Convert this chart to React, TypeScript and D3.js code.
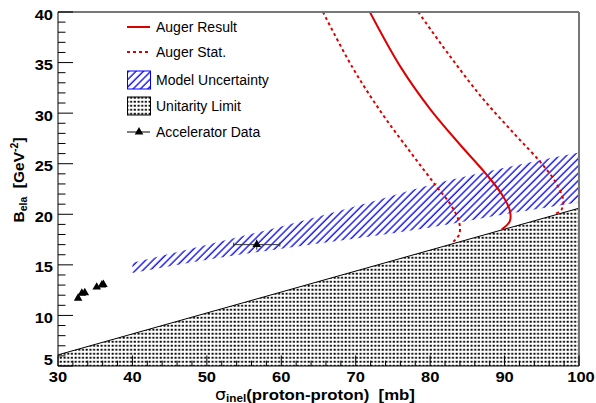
import React from "react";
import * as d3 from "d3";

// ---- data ----
const xTicksMajor = [30, 40, 50, 60, 70, 80, 90, 100];
const yTicksMajor = [5, 10, 15, 20, 25, 30, 35, 40];

const augerResultX = [71.9, 76.0, 80.0, 84.0, 87.5, 89.6, 90.7, 90.7, 89.6];
const augerResultY = [40, 34.6, 30.4, 26.9, 24.0, 22.0, 20.4, 19.3, 18.5];

const augerStatLowX = [65.6, 69.5, 73.5, 77.5, 80.8, 82.8, 83.9, 83.9, 83.0];
const augerStatLowY = [40, 34.6, 30.0, 26.0, 22.8, 20.9, 19.2, 18.0, 17.2];

const augerStatHighX = [78.4, 82.5, 87.0, 91.5, 95.0, 97.0, 97.9, 97.6, 96.6];
const augerStatHighY = [40, 35.8, 31.5, 27.8, 25.0, 23.0, 21.3, 20.4, 20.0];

const bandX = [40, 50, 60, 70, 80, 90, 100];
const bandUpper = [15.2, 17.0, 18.8, 20.8, 22.9, 24.6, 26.1];
const bandLower = [14.2, 15.5, 16.6, 17.6, 18.7, 20.0, 21.2];

const unitarityX = [30, 100];
const unitarityY = [6.1, 20.6];

const accX = [32.7, 33.2, 33.6, 35.2, 35.9, 36.1, 56.7];
const accY = [11.7, 12.2, 12.25, 12.8, 13.0, 13.05, 17.0];
const accXErr = [0, 0, 0, 0, 0, 0, 3.1];
const accYErr = [0, 0, 0, 0, 0, 0, 0.5];

const legendLabels = ["Auger Result", "Auger Stat.", "Model Uncertainty", "Unitarity Limit", "Accelerator Data"];

// ---- layout ----
const W = 596, H = 403;
const L = 58, R = 579, T = 12, B = 366;
const RED = "#dd0000";
const BLUE = "#0000ff";

export default function App() {
  const x = d3.scaleLinear().domain([30, 100]).range([L, R]);
  const y = d3.scaleLinear().domain([5, 40]).range([B, T]);

  const line = d3.line<[number, number]>().x(d => x(d[0])).y(d => y(d[1])).curve(d3.curveCatmullRom.alpha(0.5));
  const straight = d3.line<[number, number]>().x(d => x(d[0])).y(d => y(d[1]));

  const zip = (a: number[], b: number[]) => a.map((v, i) => [v, b[i]] as [number, number]);

  const bandArea = d3.area<number>()
    .x((_, i) => x(bandX[i]))
    .y0((_, i) => y(bandLower[i]))
    .y1((_, i) => y(bandUpper[i]))
    .curve(d3.curveMonotoneX);

  const unitPoly = [
    [unitarityX[0], y.domain()[0]],
    [unitarityX[0], unitarityY[0]],
    [unitarityX[1], unitarityY[1]],
    [unitarityX[1], y.domain()[0]],
  ] as [number, number][];

  const xMinor = d3.range(30, 100.001, 2);
  const yMinor = d3.range(5, 40.001, 1);

  const tri = d3.symbol().type(d3.symbolTriangle).size(32)();
  const boldFont = "'Liberation Sans', Arial, Helvetica, sans-serif";

  const legendY = [27, 52, 80, 106, 132];

  return (
    <svg width={W} height={H} style={{ position: "absolute", left: 0, top: 0, background: "#fff" }}
      fontFamily={boldFont}>
      <defs>
        <pattern id="hatch" patternUnits="userSpaceOnUse" width="5.2" height="5.2" patternTransform="rotate(45)">
          <line x1="1" y1="0" x2="1" y2="5.2" stroke={BLUE} strokeWidth="1.3" />
        </pattern>
        <pattern id="dots" patternUnits="userSpaceOnUse" width="3.7" height="4">
          <rect x="0.6" y="0.8" width="2" height="1.9" fill="#000" />
        </pattern>
        <clipPath id="plotclip">
          <rect x={L} y={T} width={R - L} height={B - T} />
        </clipPath>
      </defs>
      <rect x={0} y={0} width={W} height={H} fill="#fff" />

      <g clipPath="url(#plotclip)">
        <path d={bandArea(bandX) || ""} fill="url(#hatch)" stroke="none" />
        <path d={straight(unitPoly) + "Z"} fill="url(#dots)" stroke="none" />
        <path d={straight(zip(unitarityX, unitarityY)) || ""} fill="none" stroke="#000" strokeWidth={1} />
        <path d={line(zip(augerStatLowX, augerStatLowY)) || ""} fill="none" stroke={RED} strokeWidth={2} strokeDasharray="3,3" />
        <path d={line(zip(augerStatHighX, augerStatHighY)) || ""} fill="none" stroke={RED} strokeWidth={2} strokeDasharray="3,3" />
        <path d={line(zip(augerResultX, augerResultY)) || ""} fill="none" stroke={RED} strokeWidth={2} />
        {accX.map((v, i) => (
          <g key={i}>
            {accXErr[i] > 0 && (
              <g stroke="#333" strokeWidth={1}>
                <line x1={x(v - accXErr[i])} x2={x(v + accXErr[i])} y1={y(accY[i])} y2={y(accY[i])} />
                <line x1={x(v - accXErr[i])} x2={x(v - accXErr[i])} y1={y(accY[i]) - 2} y2={y(accY[i]) + 2} />
                <line x1={x(v + accXErr[i])} x2={x(v + accXErr[i])} y1={y(accY[i]) - 2} y2={y(accY[i]) + 2} />
                <line x1={x(v)} x2={x(v)} y1={y(accY[i] - accYErr[i])} y2={y(accY[i] + accYErr[i])} />
              </g>
            )}
            <path d={tri || ""} transform={`translate(${x(v)},${y(accY[i])})`} fill="#000" />
          </g>
        ))}
      </g>

      {/* frame */}
      <line x1={L} x2={R} y1={T} y2={T} stroke="#777" strokeWidth={2} />
      <line x1={R} x2={R} y1={T} y2={B} stroke="#777" strokeWidth={2} />
      <line x1={L} x2={L} y1={T} y2={B} stroke="#000" strokeWidth={1} />
      <line x1={L} x2={R} y1={B} y2={B} stroke="#000" strokeWidth={1} />

      {yMinor.map(v => {
        const major = yTicksMajor.includes(Math.round(v * 1000) / 1000);
        return <line key={"ym" + v} x1={L} x2={L + (major ? 15 : 7.5)} y1={y(v)} y2={y(v)} stroke="#000" strokeWidth={1} />;
      })}
      {xMinor.map(v => {
        const major = xTicksMajor.includes(Math.round(v * 1000) / 1000);
        return <line key={"xm" + v} x1={x(v)} x2={x(v)} y1={B} y2={B - (major ? 10.5 : 5.3)} stroke="#000" strokeWidth={1} />;
      })}

      {yTicksMajor.map((v, i) => (
        <g key={"yl" + v} transform={`translate(53,${y(v) + (i === 0 ? -1 : 7.5)}) scale(1.1,1)`}>
          <text textAnchor="end" fontWeight="bold" fontSize={15} fill="#000">{v}</text>
        </g>
      ))}
      {xTicksMajor.map(v => (
        <g key={"xl" + v} transform={`translate(${x(v) + (v === 100 ? 2 : 0)},382) scale(1.1,1)`}>
          <text textAnchor="middle" fontWeight="bold" fontSize={15} fill="#000">{v}</text>
        </g>
      ))}

      <g transform={`translate(315,399.5) scale(1.12,1)`}>
        <text textAnchor="middle" fontSize={15} fill="#000" style={{ whiteSpace: "pre" }}>
          <tspan fontFamily="'DejaVu Sans', sans-serif" fontWeight="normal" fontSize={15.5}>σ</tspan>
          <tspan fontWeight="bold" fontSize={10.5} dy={2.5}>inel</tspan>
          <tspan fontWeight="bold" dy={-2.5}>{"(proton-proton)  [mb]"}</tspan>
        </text>
      </g>

      <g transform={`translate(24,180) rotate(-90)`}>
        <text textAnchor="middle" fontSize={15.5} fontWeight="bold" fill="#000" style={{ whiteSpace: "pre" }}>
          <tspan>B</tspan>
          <tspan fontSize={10.5} dy={3}>ela</tspan>
          <tspan dy={-3}>{"  [GeV"}</tspan>
          <tspan fontSize={10.5} dy={-6}>-2</tspan>
          <tspan dy={6}>]</tspan>
        </text>
      </g>

      <g fontFamily="'Liberation Sans', Arial, sans-serif" fontSize={14}>
        <line x1={127} x2={150} y1={legendY[0]} y2={legendY[0]} stroke={RED} strokeWidth={2} />
        <line x1={127} x2={150} y1={legendY[1]} y2={legendY[1]} stroke={RED} strokeWidth={2} strokeDasharray="3,3" />
        <rect x={127.5} y={legendY[2] - 9} width={23} height={18} fill="url(#hatch)" stroke={BLUE} strokeWidth={1} />
        <rect x={127.5} y={legendY[3] - 9} width={23} height={18} fill="url(#dots)" stroke="#000" strokeWidth={1} />
        <line x1={127} x2={150} y1={legendY[4]} y2={legendY[4]} stroke="#000" strokeWidth={1} />
        <path d={tri || ""} transform={`translate(139,${legendY[4]})`} fill="#000" />
        {legendLabels.map((t, i) => (
          <text key={t} x={156} y={legendY[i] + 5} fill="#000">{t}</text>
        ))}
      </g>
    </svg>
  );
}
